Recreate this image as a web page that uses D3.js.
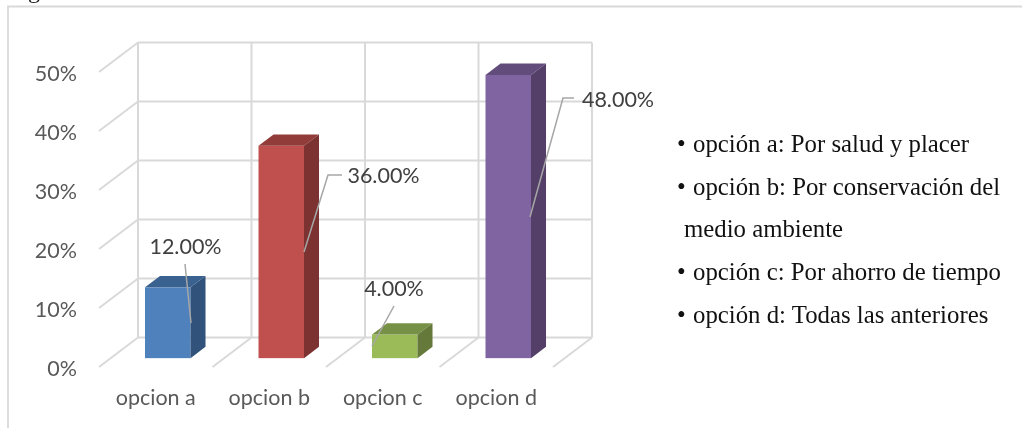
<!DOCTYPE html>
<html>
<head>
<meta charset="utf-8">
<script src="https://cdnjs.cloudflare.com/ajax/libs/d3/7.8.5/d3.min.js"></script>
<style>
  html, body { margin: 0; padding: 0; background: #fff; overflow: hidden; }
  svg { display: block; filter: blur(0.35px); }
</style>
</head>
<body>
<div id="chart"></div>
<script>
// chart values
var categories = ["opcion a", "opcion b", "opcion c", "opcion d"];
var values = [12, 36, 4, 48];
var valueLabels = ["12.00%", "36.00%", "4.00%", "48.00%"];
var yTicks = [0, 10, 20, 30, 40, 50];
var notes = [
  "opción a: Por salud y placer",
  "opción b: Por conservación del",
  "medio ambiente",
  "opción c: Por ahorro de tiempo",
  "opción d: Todas las anteriores"
];
var noteBullets = [true, true, false, true, true];

// front face colour, top, side
var barFront = ["#4f81bd", "#c0504d", "#9bbb59", "#8064a2"];
var barTop = ["#3a6290", "#923c3a", "#769045", "#624c7c"];
var barSide = ["#30527b", "#7c3230", "#64793a", "#533f68"];

var width = 1022, height = 428;

// floor of the 3d box, front edge and how far the back wall is shifted
var frontLeft = 99, frontRight = 553, frontBase = 367;
var depthX = 39, depthY = -29.5;
var barDepth = 0.385, barInset = 0.3, barWidth = 45.5;

var svg = d3.select("#chart").append("svg")
    .attr("width", width)
    .attr("height", height);

var x = d3.scaleBand()
    .domain(categories)
    .range([frontLeft, frontRight]);

var y = d3.scaleLinear()
    .domain([0, 50])
    .range([frontBase, frontBase - 295]);

var wallLeft = frontLeft + depthX, wallRight = frontRight + depthX;

// outer frame, only left and top are visible
svg.append("path")
    .attr("d", "M8,428V6.5H1022")
    .attr("fill", "none")
    .attr("stroke", "#d9d9d9")
    .attr("stroke-width", 1.8);

// descender of the caption cropped off at the top
svg.append("text")
    .attr("x", 28).attr("y", -2.5)
    .attr("font-family", "Liberation Serif")
    .attr("font-size", 24)
    .attr("fill", "#222")
    .text("g");

var grid = svg.append("g")
    .attr("fill", "none")
    .attr("stroke", "#d9d9d9")
    .attr("stroke-width", 2);

// back wall horizontals + side wall diagonals
yTicks.forEach(function(t) {
  grid.append("line")
      .attr("x1", wallLeft).attr("x2", wallRight)
      .attr("y1", y(t) + depthY).attr("y2", y(t) + depthY);
  grid.append("line")
      .attr("x1", frontLeft).attr("x2", wallLeft)
      .attr("y1", y(t)).attr("y2", y(t) + depthY);
});

// back wall verticals + floor diagonals
var floorStops = categories.map(function(c) { return x(c); }).concat([frontRight]);
floorStops.forEach(function(fx) {
  grid.append("line")
      .attr("x1", fx + depthX).attr("x2", fx + depthX)
      .attr("y1", y(0) + depthY).attr("y2", y(50) + depthY);
  if (fx > frontLeft) {
    grid.append("line")
        .attr("x1", fx).attr("x2", fx + depthX)
        .attr("y1", y(0)).attr("y2", y(0) + depthY);
  }
});

// y axis labels
svg.append("g").selectAll("text")
    .data(yTicks)
    .enter().append("text")
    .attr("x", 77)
    .attr("y", function(d) { return y(d) + 9; })
    .attr("text-anchor", "end")
    .attr("font-family", "Lato")
    .attr("font-size", 21.5)
    .attr("fill", "#595959")
    .text(function(d) { return d + "%"; });

// x axis labels
svg.append("g").selectAll("text")
    .data(categories)
    .enter().append("text")
    .attr("x", function(d) { return x(d) + x.bandwidth() / 2; })
    .attr("y", 405)
    .attr("text-anchor", "middle")
    .attr("font-family", "Lato")
    .attr("font-size", 21.5)
    .attr("fill", "#595959")
    .text(function(d) { return d; });

// bars, each one front + top + side
var bar = svg.append("g").selectAll("g")
    .data(values)
    .enter().append("g")
    .attr("transform", function(d, i) {
      var left = x(categories[i]) + (x.bandwidth() - barWidth) / 2 + depthX * barInset + 0.3;
      return "translate(" + left + "," + (depthY * barInset) + ")";
    });

var dx = depthX * barDepth, dy = depthY * barDepth;

bar.append("rect")
    .attr("y", function(d) { return y(d); })
    .attr("width", barWidth)
    .attr("height", function(d) { return y(0) - y(d); })
    .attr("fill", function(d, i) { return barFront[i]; });

bar.append("path")
    .attr("d", function(d) {
      return "M0," + y(d) + "l" + dx + "," + dy + "h" + barWidth + "l" + (-dx) + "," + (-dy) + "z";
    })
    .attr("fill", function(d, i) { return barTop[i]; });

bar.append("path")
    .attr("d", function(d) {
      return "M" + barWidth + "," + y(d) + "l" + dx + "," + dy + "V" + (y(0) + dy) + "l" + (-dx) + "," + (-dy) + "z";
    })
    .attr("fill", function(d, i) { return barSide[i]; });

// leader lines
var leaders = [
  "M185,264L191,323",
  "M304,252L328,175H342",
  "M394,306L372,346",
  "M530,217L563,98H574"
];
svg.append("g").selectAll("path")
    .data(leaders)
    .enter().append("path")
    .attr("d", function(d) { return d; })
    .attr("fill", "none")
    .attr("stroke", "#a6a6a6")
    .attr("stroke-width", 1.5);

// data labels
var labelPos = [[185.5, 254], [383.5, 183], [394, 296], [618, 107]];
svg.append("g").selectAll("text")
    .data(valueLabels)
    .enter().append("text")
    .attr("x", function(d, i) { return labelPos[i][0]; })
    .attr("y", function(d, i) { return labelPos[i][1]; })
    .attr("text-anchor", "middle")
    .attr("font-family", "Lato")
    .attr("font-size", 21.5)
    .attr("fill", "#404040")
    .text(function(d) { return d; });

// notes on the right
var noteX = [693, 693, 684, 693, 693];
var noteY = [152, 195, 237, 280, 323];
var note = svg.append("g")
    .attr("font-family", "Liberation Serif")
    .attr("font-size", 24.8)
    .attr("fill", "#111");

note.selectAll("text.note")
    .data(notes)
    .enter().append("text")
    .attr("class", "note")
    .attr("x", function(d, i) { return noteX[i]; })
    .attr("y", function(d, i) { return noteY[i]; })
    .text(function(d) { return d; });

note.selectAll("text.bullet")
    .data(noteBullets)
    .enter().filter(function(d) { return d; }).append("text")
    .attr("class", "bullet")
    .attr("x", 677)
    .attr("y", function(d, i) { return [152, 195, 280, 323][i]; })
    .text("•");
</script>
</body>
</html>
